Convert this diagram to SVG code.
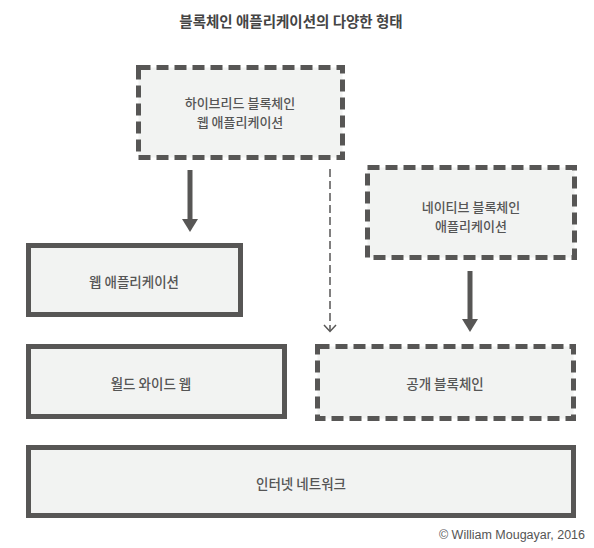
<svg xmlns="http://www.w3.org/2000/svg" width="594" height="548" viewBox="0 0 594 548">
<style>
.box{fill:#f2f3f2;stroke:#575655;stroke-width:5}
.dash{stroke-dasharray:12 6}
.t{font-family:"Noto Sans CJK KR","Noto Sans",sans-serif;font-size:13.5px;font-weight:500;fill:#555;text-anchor:middle;dominant-baseline:central}
.t2{font-size:13px}
.title{font-family:"Noto Sans CJK KR","Noto Sans",sans-serif;font-size:14.5px;font-weight:bold;fill:#444;text-anchor:middle;dominant-baseline:central}
.copy{font-family:"Liberation Sans",Arial,sans-serif;font-size:12.5px;fill:#555;text-anchor:end;dominant-baseline:central}
</style>
<rect width="594" height="548" fill="#fff"/>
<text class="title" x="291" y="20">블록체인 애플리케이션의 다양한 형태</text>
<g id="connectors">
<line x1="190" y1="170" x2="190" y2="220" stroke="#575655" stroke-width="5"/>
<polygon points="182,219 198,219 190,232" fill="#575655"/>
<line x1="470" y1="271" x2="470" y2="320" stroke="#575655" stroke-width="5"/>
<polygon points="462,319 478,319 470,332" fill="#575655"/>
<line x1="330" y1="169" x2="330" y2="331" stroke="#575655" stroke-width="1.5" stroke-dasharray="8 4"/>
<polyline points="324,325 330,331.5 336,325" fill="none" stroke="#575655" stroke-width="1.5"/>
</g>
<g id="hybrid">
<rect class="box dash" x="138.5" y="67.5" width="204" height="90"/>
<text class="t t2" x="240" y="102.5">하이브리드 블록체인</text>
<text class="t t2" x="240" y="121.5">웹 애플리케이션</text>
</g>
<g id="native">
<rect class="box dash" x="367.5" y="167.5" width="207" height="90"/>
<text class="t t2" x="471" y="206.5">네이티브 블록체인</text>
<text class="t t2" x="471" y="225.5">애플리케이션</text>
</g>
<g id="webapp">
<rect class="box" x="28.5" y="245.5" width="212" height="69"/>
<text class="t" x="134" y="281">웹 애플리케이션</text>
</g>
<g id="www">
<rect class="box" x="28.5" y="346.5" width="256" height="70"/>
<text class="t" x="151" y="383">월드 와이드 웹</text>
</g>
<g id="public">
<rect class="box dash" x="317.5" y="346.5" width="256" height="72"/>
<text class="t" x="445" y="383">공개 블록체인</text>
</g>
<g id="internet">
<rect class="box" x="28.5" y="447.5" width="545" height="68"/>
<text class="t" x="301" y="483">인터넷 네트워크</text>
</g>
<text class="copy" x="585" y="535">© William Mougayar, 2016</text>
</svg>
